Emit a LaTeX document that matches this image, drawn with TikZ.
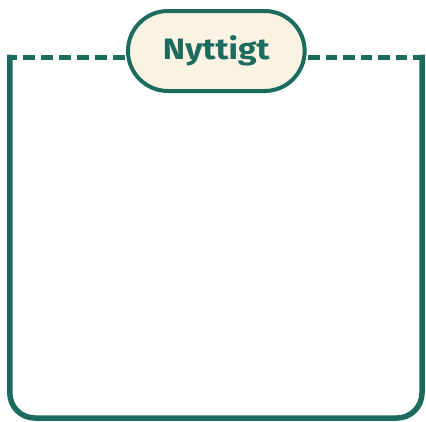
\documentclass[tikz,border=0pt]{standalone}
\usepackage{fontspec}
\newfontfamily\pillfont[FakeStretch=1.14]{Fira Sans}
\definecolor{teal1}{HTML}{1B6B5E}
\definecolor{cream}{HTML}{FAF2E3}
\usetikzlibrary{shapes.misc}
\tikzset{
  framesolid/.style={draw=teal1, line width=5.5pt, line cap=butt, line join=round, rounded corners=25pt},
  framedash/.style={draw=teal1, line width=5.5pt, line cap=butt, dash pattern=on 12pt off 6pt},
  pill/.style={draw=teal1, fill=cream, line width=4pt, rounded rectangle, minimum width=176.7pt, minimum height=80pt, inner sep=0pt,
    text height=23.3pt, text depth=6.7pt,
    font=\pillfont\bfseries\fontsize{29.5}{29.5}\selectfont, text=teal1}
}
\begin{document}
\begin{tikzpicture}[x=1pt,y=-1pt]
\useasboundingbox (0,0) rectangle (426,421);
\coordinate (tl) at (9.8,54.7);
\coordinate (tr) at (422,54.7);
\coordinate (dl) at (7,57.5);
\coordinate (dr) at (424.7,57.5);
\coordinate (bl) at (9.8,418);
\coordinate (br) at (422,418);
\draw[framesolid] (tl) -- (bl) -- (br) -- (tr);
\node[pill] (title) at (216.3,51) {Nyttigt};
\draw[framedash, dash phase=2pt] (dl) -- (title.west |- dl);
\draw[framedash, dash pattern=on 11.5pt off 6pt] (dr) -- (title.east |- dr);
\end{tikzpicture}
\end{document}
